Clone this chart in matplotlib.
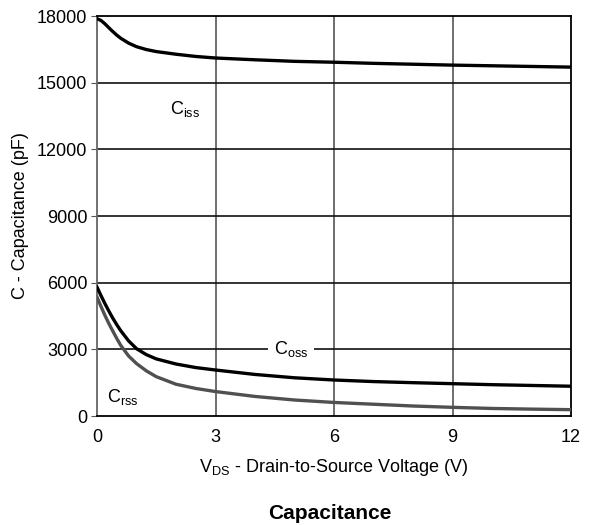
import matplotlib
matplotlib.use('Agg')
import matplotlib.pyplot as plt

plt.rcParams['font.family'] = ['Liberation Sans', 'DejaVu Sans']

# Drain-to-source voltage (V)
vds = [0, 0.1, 0.2, 0.3, 0.4, 0.5, 0.6, 0.8, 1.0, 1.25, 1.5, 2, 2.5, 3,
       4, 5, 6, 7, 8, 9, 10, 11, 12]
# Capacitances (pF)
ciss = [17880, 17800, 17650, 17470, 17300, 17140, 17000, 16780, 16620,
        16490, 16400, 16280, 16180, 16110, 16030, 15960, 15920, 15870,
        15830, 15790, 15760, 15730, 15700]
coss = [5800, 5420, 5060, 4720, 4400, 4110, 3840, 3380, 3030,
        2760, 2570, 2340, 2180, 2070, 1870, 1720, 1620, 1550,
        1500, 1455, 1410, 1375, 1340]
crss = [5350, 4930, 4530, 4160, 3820, 3490, 3180, 2700, 2360,
        2030, 1770, 1430, 1240, 1100, 880, 720, 610, 530,
        450, 390, 340, 310, 285]

xticks = [0, 3, 6, 9, 12]
yticks = [0, 3000, 6000, 9000, 12000, 15000, 18000]

fig = plt.figure(figsize=(5.93, 5.25), dpi=100)
ax = fig.add_axes([0.1636, 0.2076, 0.7994, 0.7619])

# grid: grey verticals, black horizontals
for v in xticks[1:-1]:
    ax.axvline(v, color='#555555', lw=1.2, zorder=1)
for c in yticks[1:-1]:
    ax.axhline(c, color='#111111', lw=1.2, zorder=1)

ax.plot(vds, ciss, color='black', lw=2.4, zorder=3)
ax.plot(vds, coss, color='black', lw=2.4, zorder=3)
ax.plot(vds, crss, color='#505050', lw=2.4, zorder=3)

ax.text(2.23, 13800, r'C$_{\mathregular{iss}}$', fontsize=13, ha='center', va='center', zorder=4)
ax.text(4.91, 3000, r'C$_{\mathregular{oss}}$', fontsize=13, ha='center', va='center', zorder=4,
        bbox=dict(facecolor='white', edgecolor='none', pad=4))
ax.text(0.66, 850, r'C$_{\mathregular{rss}}$', fontsize=13, ha='center', va='center', zorder=4)

ax.set_xlim(0, 12)
ax.set_ylim(0, 18000)
ax.set_xticks(xticks)
ax.set_yticks(yticks)
ax.tick_params(axis='y', direction='out', length=4, labelsize=13, color='#555555', pad=3)
ax.tick_params(axis='x', length=0, labelsize=13, pad=9)

for s in ['top', 'right', 'bottom']:
    ax.spines[s].set_color('black')
ax.spines['left'].set_color('#666666')
for s in ax.spines.values():
    s.set_linewidth(1.3)

ax.set_xlabel(r'V$_{\mathregular{DS}}$ - Drain-to-Source Voltage (V)', fontsize=13, labelpad=8)
ax.set_ylabel('C - Capacitance (pF)', fontsize=13, labelpad=6)
fig.text(330 / 593, 0.003, 'Capacitance', fontsize=15, fontweight='bold',
         ha='center', va='bottom')

plt.savefig('out.png', dpi=100)
